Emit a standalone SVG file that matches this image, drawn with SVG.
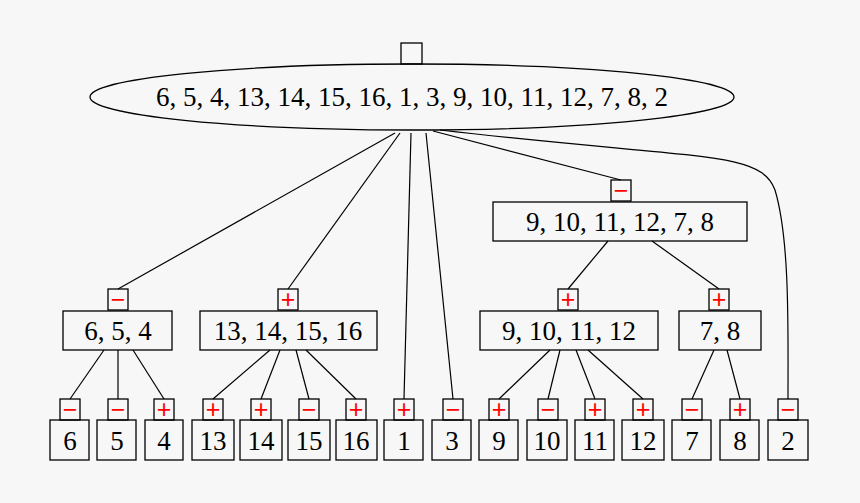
<svg xmlns="http://www.w3.org/2000/svg" width="860" height="503" viewBox="0 0 860 503">
<style>
.b{fill:none;stroke:#000;stroke-width:1.3}
.t{font-family:"Liberation Serif",serif;font-size:27px;text-anchor:middle;fill:#000}
.s{font-family:"Liberation Sans",sans-serif;font-size:25px;text-anchor:middle;fill:#f00}
.e{fill:none;stroke:#000;stroke-width:1.2}
</style>
<rect width="860" height="503" fill="#f7f7f7"/>
<g id="connectors">
<path class="e" d="M395,133 L118,289"/>
<path class="e" d="M400,133 L288,289"/>
<path class="e" d="M411,133 L404,399"/>
<path class="e" d="M426,133 L453,399"/>
<path class="e" d="M433,131 L621,180"/>
<path class="e" d="M440,130 C700,160 760,150 775,190 C790,240 788,330 788,399"/>
<path class="e" d="M104,350 L70,399"/><path class="e" d="M118,350 L118,399"/><path class="e" d="M133,350 L164,399"/>
<path class="e" d="M270,350 L213,399"/><path class="e" d="M280,350 L261,399"/><path class="e" d="M296,350 L309,399"/><path class="e" d="M306,350 L356,399"/>
<path class="e" d="M608,241 L568,289"/><path class="e" d="M652,241 L719,289"/>
<path class="e" d="M550,350 L499,399"/><path class="e" d="M560,350 L548,399"/><path class="e" d="M576,350 L595,399"/><path class="e" d="M588,350 L643,399"/>
<path class="e" d="M714,350 L692,399"/><path class="e" d="M727,350 L740,399"/>
</g>
<g id="root">
<rect class="b" x="401" y="43" width="21" height="21"/>
<ellipse class="b" cx="412" cy="97" rx="322" ry="33"/>
<text class="t" x="412" y="106">6, 5, 4, 13, 14, 15, 16, 1, 3, 9, 10, 11, 12, 7, 8, 2</text>
</g>
<g id="n910111278"><rect class="b" x="611" y="180" width="20" height="21"/><text class="s" x="621" y="199">−</text>
<rect class="b" x="493" y="202" width="254" height="39"/><text class="t" x="620" y="231">9, 10, 11, 12, 7, 8</text></g>
<g id="n654"><rect class="b" x="108" y="289" width="20" height="21"/><text class="s" x="118" y="308">−</text>
<rect class="b" x="63" y="311" width="109" height="39"/><text class="t" x="118" y="340">6, 5, 4</text></g>
<g id="n13141516"><rect class="b" x="278" y="289" width="20" height="21"/><text class="s" x="288" y="308">+</text>
<rect class="b" x="200" y="311" width="177" height="39"/><text class="t" x="288" y="340">13, 14, 15, 16</text></g>
<g id="n9101112"><rect class="b" x="558" y="289" width="20" height="21"/><text class="s" x="568" y="308">+</text>
<rect class="b" x="480" y="311" width="178" height="39"/><text class="t" x="569" y="340">9, 10, 11, 12</text></g>
<g id="n78"><rect class="b" x="709" y="289" width="20" height="21"/><text class="s" x="719" y="308">+</text>
<rect class="b" x="679" y="311" width="82" height="39"/><text class="t" x="720" y="340">7, 8</text></g>
<g id="l6"><rect class="b" x="60" y="399" width="20" height="21"/><text class="s" x="70" y="418">−</text><rect class="b" x="50" y="420" width="39" height="40"/><text class="t" x="70" y="450">6</text></g>
<g id="l5"><rect class="b" x="108" y="399" width="20" height="21"/><text class="s" x="118" y="418">−</text><rect class="b" x="97" y="420" width="39" height="40"/><text class="t" x="117" y="450">5</text></g>
<g id="l4"><rect class="b" x="154" y="399" width="20" height="21"/><text class="s" x="164" y="418">+</text><rect class="b" x="145" y="420" width="38" height="40"/><text class="t" x="164" y="450">4</text></g>
<g id="l13"><rect class="b" x="203" y="399" width="20" height="21"/><text class="s" x="213" y="418">+</text><rect class="b" x="192" y="420" width="42" height="40"/><text class="t" x="213" y="450">13</text></g>
<g id="l14"><rect class="b" x="251" y="399" width="20" height="21"/><text class="s" x="261" y="418">+</text><rect class="b" x="240" y="420" width="42" height="40"/><text class="t" x="261" y="450">14</text></g>
<g id="l15"><rect class="b" x="299" y="399" width="20" height="21"/><text class="s" x="309" y="418">−</text><rect class="b" x="288" y="420" width="42" height="40"/><text class="t" x="309" y="450">15</text></g>
<g id="l16"><rect class="b" x="346" y="399" width="20" height="21"/><text class="s" x="356" y="418">+</text><rect class="b" x="336" y="420" width="41" height="40"/><text class="t" x="356" y="450">16</text></g>
<g id="l1"><rect class="b" x="394" y="399" width="20" height="21"/><text class="s" x="404" y="418">+</text><rect class="b" x="384" y="420" width="39" height="40"/><text class="t" x="404" y="450">1</text></g>
<g id="l3"><rect class="b" x="443" y="399" width="20" height="21"/><text class="s" x="453" y="418">−</text><rect class="b" x="432" y="420" width="39" height="40"/><text class="t" x="452" y="450">3</text></g>
<g id="l9"><rect class="b" x="489" y="399" width="20" height="21"/><text class="s" x="499" y="418">+</text><rect class="b" x="479" y="420" width="39" height="40"/><text class="t" x="499" y="450">9</text></g>
<g id="l10"><rect class="b" x="538" y="399" width="20" height="21"/><text class="s" x="548" y="418">−</text><rect class="b" x="527" y="420" width="40" height="40"/><text class="t" x="547" y="450">10</text></g>
<g id="l11"><rect class="b" x="585" y="399" width="20" height="21"/><text class="s" x="595" y="418">+</text><rect class="b" x="575" y="420" width="39" height="40"/><text class="t" x="595" y="450">11</text></g>
<g id="l12"><rect class="b" x="633" y="399" width="20" height="21"/><text class="s" x="643" y="418">+</text><rect class="b" x="622" y="420" width="42" height="40"/><text class="t" x="643" y="450">12</text></g>
<g id="l7"><rect class="b" x="682" y="399" width="20" height="21"/><text class="s" x="692" y="418">−</text><rect class="b" x="672" y="420" width="39" height="40"/><text class="t" x="692" y="450">7</text></g>
<g id="l8"><rect class="b" x="730" y="399" width="20" height="21"/><text class="s" x="740" y="418">+</text><rect class="b" x="720" y="420" width="39" height="40"/><text class="t" x="740" y="450">8</text></g>
<g id="l2"><rect class="b" x="778" y="399" width="20" height="21"/><text class="s" x="788" y="418">−</text><rect class="b" x="768" y="420" width="40" height="40"/><text class="t" x="788" y="450">2</text></g>
</svg>
